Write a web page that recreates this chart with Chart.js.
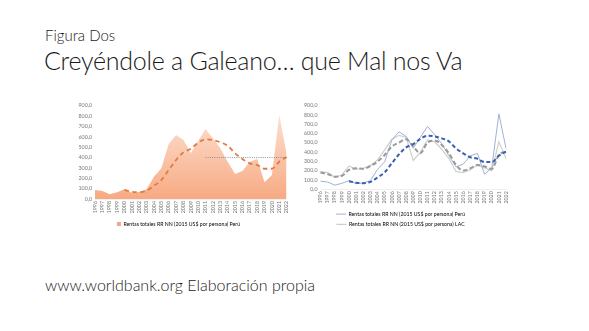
<!DOCTYPE html>
<html><head><meta charset="utf-8">
<script src="https://cdn.jsdelivr.net/npm/chart.js@4.4.1/dist/chart.umd.min.js"></script>
<style>
html,body{margin:0;padding:0;background:#fff;width:589px;height:331px;overflow:hidden;font-family:Lato,"Open Sans",sans-serif;color:#1a1a1a}
.t{position:absolute;white-space:nowrap;line-height:1}
.cw{position:absolute;top:95px;width:225px;height:135px}
</style></head><body>
<div class="t" style="left:45px;top:28px;font-size:15px;font-weight:300">Figura Dos</div>
<div class="t" style="left:44px;top:48px;font-size:25px;font-weight:300;letter-spacing:-0.25px">Creyéndole a Galeano… que Mal nos Va</div>
<div class="t" style="left:45px;top:277px;font-size:16px;font-weight:300">www.worldbank.org Elaboración propia</div>
<div class="cw" style="left:70px"><canvas id="c1"></canvas></div>
<div class="cw" style="left:295px"><canvas id="c2"></canvas></div>
<script>
const years = ["1996","1997","1998","1999","2000","2001","2002","2003","2004","2005","2006","2007","2008","2009","2010","2011","2012","2013","2014","2015","2016","2017","2018","2019","2020","2021","2022"];
const peru = [87,78,45,64,93,61,68,93,215,296,530,617,569,441,560,675,585,489,360,241,270,360,385,161,231,810,440];
const lac = [190,179,129,154,251,215,226,254,315,423,538,580,560,310,400,530,510,430,330,190,180,210,260,230,200,510,330];
const peruTrend = [null,null,null,null,87,70,66,80,128,183,280,376,450,485,543,575,569,547,514,440,386,344,328,292,292,360,405];
const lacTrend = [180,165,136,145,208,226,220,251,297,369,459,502,538,459,387,502,523,477,387,262,201,226,262,244,219,369,405];
const peruAvg = [null,null,null,null,null,null,null,null,null,null,null,null,null,null,null,400,400,400,400,400,400,400,400,400,400,400,400];
const yTicks = [0,100,200,300,400,500,600,700,800,900];
const legendPeru = "Rentas totales RR NN (2015 US$ por persona) Perú";
const legendLac = "Rentas totales RR NN (2015 US$ por persona) LAC";

const tickFont = {family:"Lato, 'Open Sans', sans-serif", size:5.3};
const legFont = {family:"Lato, 'Open Sans', sans-serif", size:5.2};
const tickColor = "#777777";

function yScale(w){
  return {min:0,max:900,
    afterBuildTicks:s=>{s.ticks=yTicks.map(v=>({value:v}));},
    afterFit:s=>{s.width=w;},
    ticks:{font:tickFont,color:tickColor,padding:3,autoSkip:false,callback:v=>v.toFixed(1).replace('.',',')},
    grid:{display:false,drawTicks:false},border:{display:false}};
}
function xScale(h){
  return {afterFit:s=>{s.height=h;},
    ticks:{font:tickFont,color:tickColor,maxRotation:90,minRotation:90,autoSkip:false,padding:2},
    grid:{display:false,drawTicks:false},border:{display:true,color:"#e4e4e4",width:0.6}};
}

new Chart(document.getElementById('c1'),{
  type:'line',
  data:{labels:years,datasets:[
    {label:'avg',data:peruAvg,borderColor:'#8592a8',borderWidth:1,borderDash:[1,1.2],pointRadius:0,fill:false,spanGaps:false},
    {label:'trend',data:peruTrend,borderColor:'#e27a3f',borderWidth:1.8,borderDash:[4.5,3.5],pointRadius:0,fill:false,tension:0.4,cubicInterpolationMode:'monotone'},
    {label:legendPeru,data:peru,borderWidth:0,pointRadius:0,fill:'origin',tension:0,
      backgroundColor:(ctx)=>{const ca=ctx.chart.chartArea;if(!ca)return '#f8b594';
        const g=ctx.chart.ctx.createLinearGradient(0,ca.top,0,ca.bottom);
        g.addColorStop(0,'#fde6d9');g.addColorStop(1,'#f7aa83');return g;}}
  ]},
  options:{responsive:true,maintainAspectRatio:false,animation:false,devicePixelRatio:1,
    layout:{padding:{top:10.7,right:8,left:0,bottom:0}},
    scales:{x:xScale(16.5),y:yScale(25)},
    plugins:{tooltip:{enabled:false},
      legend:{position:'bottom',maxHeight:14.5,labels:{font:legFont,color:'#7a7a7a',boxWidth:4,boxHeight:4,padding:6,
        generateLabels:()=>[{text:legendPeru,fillStyle:'#f7a57e',strokeStyle:'#f7a57e',lineWidth:0,datasetIndex:2}]}}}
  }
});

new Chart(document.getElementById('c2'),{
  type:'line',
  data:{labels:years,datasets:[
    {label:'trendPeru',data:peruTrend,borderColor:'#3a60b5',borderWidth:2,borderDash:[4,2.5],pointRadius:0,fill:false,tension:0.4,cubicInterpolationMode:'monotone'},
    {label:'trendLac',data:lacTrend,borderColor:'#9a9a9a',borderWidth:2,borderDash:[4.5,2.5],pointRadius:0,fill:false,tension:0.4,cubicInterpolationMode:'monotone'},
    {label:legendPeru,data:peru,borderColor:'#9fb2d6',borderWidth:1,pointRadius:0,fill:false,tension:0},
    {label:legendLac,data:lac,borderColor:'#cfcfcf',borderWidth:1.2,pointRadius:0,fill:false,tension:0}
  ]},
  options:{responsive:true,maintainAspectRatio:false,animation:false,devicePixelRatio:1,
    layout:{padding:{top:10.5,right:14,left:0,bottom:0}},
    scales:{x:xScale(17.2),y:yScale(25.5)},
    plugins:{tooltip:{enabled:false},
      legend:{position:'bottom',maxHeight:23.5,labels:{font:legFont,color:'#7a7a7a',usePointStyle:true,pointStyleWidth:10,boxHeight:5,padding:5,
        generateLabels:()=>[
          {text:legendPeru,pointStyle:'line',strokeStyle:'#9fb2d6',fillStyle:'#9fb2d6',lineWidth:1,datasetIndex:2},
          {text:legendLac,pointStyle:'line',strokeStyle:'#cfcfcf',fillStyle:'#cfcfcf',lineWidth:1.2,datasetIndex:3}]}}}
  }
});
</script>
</body></html>
